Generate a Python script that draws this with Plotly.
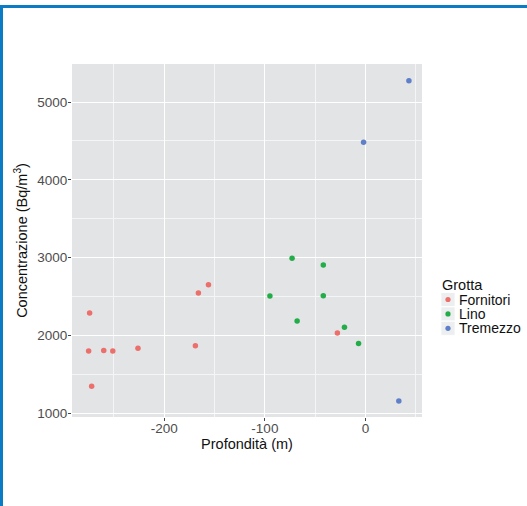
import plotly.graph_objects as go

# Radon concentration vs depth for three caves
fornitori_depth = [-274, -275, -260, -251, -226, -272, -169, -166, -156, -28]
fornitori_conc = [2286, 1797, 1806, 1797, 1832, 1343, 1867, 2543, 2651, 2029]

lino_depth = [-95, -73, -42, -42, -68, -21, -7]
lino_conc = [2505, 2990, 2904, 2510, 2183, 2102, 1893]

tremezzo_depth = [43, -2, 33]
tremezzo_conc = [5275, 4482, 1154]

groups = ["Fornitori", "Lino", "Tremezzo"]
colors = ["#ec6f6b", "#22ad48", "#5f80c8"]
series = [
    (fornitori_depth, fornitori_conc),
    (lino_depth, lino_conc),
    (tremezzo_depth, tremezzo_conc),
]

x_ticks = [-200, -100, 0]
x_tick_labels = ["-200", "-100", "0"]
y_ticks = [1000, 2000, 3000, 4000, 5000]
y_tick_labels = ["1000", "2000", "3000", "4000", "5000"]

W, H = 527, 506
ML, MR, MT, MB = 72, 105, 64, 89
PW, PH = W - ML - MR, H - MT - MB
FONT = "Liberation Sans, Arial, sans-serif"


def px(x):
    return (x - ML) / PW


def py(y):
    return 1 - (y - MT) / PH


fig = go.Figure()
for name, color, (xs, ys) in zip(groups, colors, series):
    fig.add_trace(go.Scatter(
        x=xs, y=ys, mode="markers", name=name, showlegend=False,
        marker=dict(color=color, size=5.5, line=dict(width=0)),
    ))

tick_font = dict(family=FONT, size=13.5, color="#4d4d4d")
title_font = dict(family=FONT, size=14.5, color="#111111")

fig.update_xaxes(
    range=[-291.5, 56], tickmode="array", tickvals=x_ticks, ticktext=x_tick_labels,
    ticks="outside", ticklen=3, tickcolor="#444444", tickwidth=1, tickfont=tick_font,
    ticklabelstandoff=-4,
    showgrid=True, gridcolor="white", gridwidth=1.3, zeroline=False,
    minor=dict(dtick=50, tick0=0, showgrid=True, gridcolor="#f4f5f6", gridwidth=0.7),
    title=dict(text="Profondità (m)", font=title_font, standoff=0),
    showline=False,
)
fig.update_yaxes(
    range=[949, 5490], tickmode="array", tickvals=y_ticks, ticktext=y_tick_labels,
    ticks="outside", ticklen=3, tickcolor="#444444", tickwidth=1, tickfont=tick_font,
    ticklabelstandoff=-2,
    showgrid=True, gridcolor="white", gridwidth=1.3, zeroline=False,
    minor=dict(dtick=500, tick0=0, showgrid=True, gridcolor="#f4f5f6", gridwidth=0.7),
    title=dict(text="Concentrazione (Bq/m<sup>3</sup>)", font=title_font, standoff=6),
    showline=False,
)

shapes = [
    # frame around the figure (top and left edges visible)
    dict(type="rect", xref="paper", yref="paper",
         x0=px(1.5), x1=px(W + 40), y0=py(H + 40), y1=py(6.5),
         line=dict(color="#0b7cc4", width=3), fillcolor="rgba(0,0,0,0)"),
]

annotations = [
    dict(text="Grotta", xref="paper", yref="paper", x=px(440), y=py(285),
         xanchor="left", yanchor="middle", showarrow=False,
         font=dict(family=FONT, size=14.5, color="#111111")),
]

# legend keys
for i, (name, color) in enumerate(zip(groups, colors)):
    cy = 299.5 + 14.4 * i
    shapes.append(dict(type="rect", xref="paper", yref="paper",
                       x0=px(441), x1=px(455), y0=py(cy + 7), y1=py(cy - 7),
                       line=dict(color="white", width=0.8), fillcolor="#eceeef"))
    shapes.append(dict(type="circle", xref="paper", yref="paper",
                       x0=px(448 - 2.6), x1=px(448 + 2.6), y0=py(cy + 2.6), y1=py(cy - 2.6),
                       line=dict(width=0), fillcolor=color))
    annotations.append(dict(text=name, xref="paper", yref="paper", x=px(458), y=py(cy),
                            xanchor="left", yanchor="middle", showarrow=False,
                            borderpad=0,
                            font=dict(family=FONT, size=14, color="#111111")))

fig.update_layout(
    width=W, height=H,
    margin=dict(l=ML, r=MR, t=MT, b=MB, autoexpand=False),
    paper_bgcolor="white", plot_bgcolor="#e2e4e6",
    shapes=shapes, annotations=annotations,
    showlegend=False,
)

fig.write_html("out.html")
